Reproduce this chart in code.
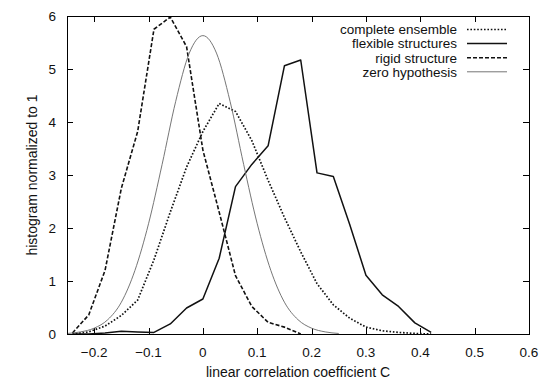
<!DOCTYPE html>
<html lang="en">
  <head>
    <meta charset="UTF-8" />
    <title>Linear correlation coefficient histogram</title>
    <style>
      body {
        margin: 0;
        background: #fff;
      }
      svg {
        display: block;
        font-family: "Liberation Sans", Arial, Helvetica, sans-serif;
      }
      .frame {
        fill: none;
        stroke: #000;
        stroke-width: 1;
      }
      .tick-label {
        font-size: 13.5px;
        fill: #111;
      }
      .axis-title {
        font-size: 14px;
        fill: #111;
      }
      .legend-label {
        font-size: 13.5px;
        fill: #111;
      }
    </style>
  </head>
  <body>
    <svg id="chart"></svg>

    <script src="https://d3js.org/d3.v7.min.js"></script>
    <script>
      const width = 540;
      const height = 382;
      const margin = { top: 16, right: 11, bottom: 48, left: 67 };

      // histogram bins (bin centres, step 0.03)
      const binCenters = [
        -0.24, -0.21, -0.18, -0.15, -0.12, -0.09, -0.06, -0.03, 0, 0.03, 0.06,
        0.09, 0.12, 0.15, 0.18, 0.21, 0.24, 0.27, 0.3, 0.33, 0.36, 0.39, 0.42,
      ];

      const completeEnsemble = [
        0.0, 0.04, 0.15, 0.35, 0.64, 1.4, 2.3, 3.15, 3.82, 4.35, 4.2, 3.65, 2.9,
        2.2, 1.55, 0.95, 0.55, 0.3, 0.13, 0.06, 0.03, 0.01, 0.0,
      ];

      const flexibleStructures = [
        0.0, 0.0, 0.02, 0.05, 0.04, 0.03, 0.19, 0.49, 0.66, 1.43, 2.78, 3.2,
        3.55, 5.06, 5.17, 3.04, 2.97, 2.07, 1.11, 0.74, 0.52, 0.21, 0.03,
      ];

      const rigidStructure = [
        0.02, 0.36, 1.2, 2.75, 3.82, 5.75, 5.98, 5.42, 3.47, 2.3, 1.1, 0.52,
        0.22, 0.13, 0.0,
      ];

      // zero hypothesis curve, read every 0.025
      const zeroX = [
        -0.25, -0.225, -0.2, -0.175, -0.15, -0.125, -0.1, -0.075, -0.05,
        -0.025, 0, 0.025, 0.05, 0.075, 0.1, 0.125, 0.15, 0.175, 0.2, 0.225,
        0.25,
      ];
      const zeroHypothesis = [
        0.01, 0.04, 0.11, 0.27, 0.6, 1.2, 2.08, 3.2, 4.39, 5.3, 5.63, 5.3, 4.39,
        3.2, 2.08, 1.2, 0.6, 0.27, 0.11, 0.04, 0.01,
      ];

      const xTicks = [-0.2, -0.1, 0, 0.1, 0.2, 0.3, 0.4, 0.5, 0.6];
      const yTicks = [0, 1, 2, 3, 4, 5, 6];

      const series = [
        {
          name: "complete ensemble",
          xs: binCenters,
          ys: completeEnsemble,
          stroke: "#111",
          width: 1.7,
          dash: "1.6,1.8",
          curve: d3.curveLinear,
        },
        {
          name: "flexible structures",
          xs: binCenters,
          ys: flexibleStructures,
          stroke: "#111",
          width: 1.5,
          dash: null,
          curve: d3.curveLinear,
        },
        {
          name: "rigid structure",
          xs: binCenters,
          ys: rigidStructure,
          stroke: "#111",
          width: 1.6,
          dash: "4,2",
          curve: d3.curveLinear,
        },
        {
          name: "zero hypothesis",
          xs: zeroX,
          ys: zeroHypothesis,
          stroke: "#666",
          width: 0.9,
          dash: null,
          curve: d3.curveMonotoneX,
        },
      ];

      const svg = d3
        .select("#chart")
        .attr("width", width)
        .attr("height", height)
        .attr("viewBox", `0 0 ${width} ${height}`);

      const x = d3
        .scaleLinear()
        .domain([-0.25, 0.6])
        .range([margin.left, width - margin.right]);

      const y = d3
        .scaleLinear()
        .domain([0, 6])
        .range([height - margin.bottom, margin.top]);

      const x0 = x.range()[0];
      const x1 = x.range()[1];
      const y0 = y.range()[0];
      const y1 = y.range()[1];
      const tickLen = 6;

      // inward ticks on all four sides (gnuplot style)
      const ticks = svg.append("g").attr("stroke", "#000").attr("stroke-width", 1);
      xTicks.forEach((t) => {
        const px = Math.round(x(t)) + 0.5;
        ticks.append("line").attr("x1", px).attr("x2", px).attr("y1", y0).attr("y2", y0 - tickLen);
        ticks.append("line").attr("x1", px).attr("x2", px).attr("y1", y1).attr("y2", y1 + tickLen);
      });
      yTicks.forEach((t) => {
        const py = Math.round(y(t)) + 0.5;
        ticks.append("line").attr("x1", x0).attr("x2", x0 + tickLen).attr("y1", py).attr("y2", py);
        ticks.append("line").attr("x1", x1).attr("x2", x1 - tickLen).attr("y1", py).attr("y2", py);
      });

      svg
        .append("g")
        .selectAll("text")
        .data(xTicks)
        .join("text")
        .attr("class", "tick-label")
        .attr("x", (d) => x(d))
        .attr("y", 357)
        .attr("text-anchor", "middle")
        .text((d) => d3.format("")(d));

      svg
        .append("g")
        .selectAll("text")
        .data(yTicks)
        .join("text")
        .attr("class", "tick-label")
        .attr("x", 56)
        .attr("y", (d) => y(d))
        .attr("dy", "0.36em")
        .attr("text-anchor", "end")
        .text((d) => d);

      // series
      const plot = svg.append("g");
      series.forEach((s) => {
        const line = d3
          .line()
          .x((d) => x(d[0]))
          .y((d) => y(d[1]))
          .curve(s.curve);
        plot
          .append("path")
          .datum(d3.zip(s.xs, s.ys))
          .attr("d", line)
          .attr("fill", "none")
          .attr("stroke", s.stroke)
          .attr("stroke-width", s.width)
          .attr("stroke-dasharray", s.dash)
          .attr("stroke-linejoin", "round");
      });

      svg
        .append("rect")
        .attr("class", "frame")
        .attr("x", x0 + 0.5)
        .attr("y", y1 + 0.5)
        .attr("width", x1 - x0)
        .attr("height", y0 - y1);

      // legend
      const legend = svg.append("g");
      series.forEach((s, i) => {
        const ly = 29.5 + i * 14.1;
        legend
          .append("text")
          .attr("class", "legend-label")
          .attr("x", 457)
          .attr("y", ly)
          .attr("dy", "0.36em")
          .attr("text-anchor", "end")
          .text(s.name);
        legend
          .append("line")
          .attr("x1", 467)
          .attr("x2", 507)
          .attr("y1", ly)
          .attr("y2", ly)
          .attr("stroke", s.stroke)
          .attr("stroke-width", s.width)
          .attr("stroke-dasharray", s.dash);
      });

      // axis titles
      svg
        .append("text")
        .attr("class", "axis-title")
        .attr("x", (x0 + x1) / 2)
        .attr("y", 377)
        .attr("text-anchor", "middle")
        .text("linear correlation coefficient C");

      svg
        .append("text")
        .attr("class", "axis-title")
        .attr("font-size", "13.5px")
        .attr("transform", `translate(37,${(y0 + y1) / 2}) rotate(-90)`)
        .attr("text-anchor", "middle")
        .text("histogram normalized to 1");
    </script>
  </body>
</html>
